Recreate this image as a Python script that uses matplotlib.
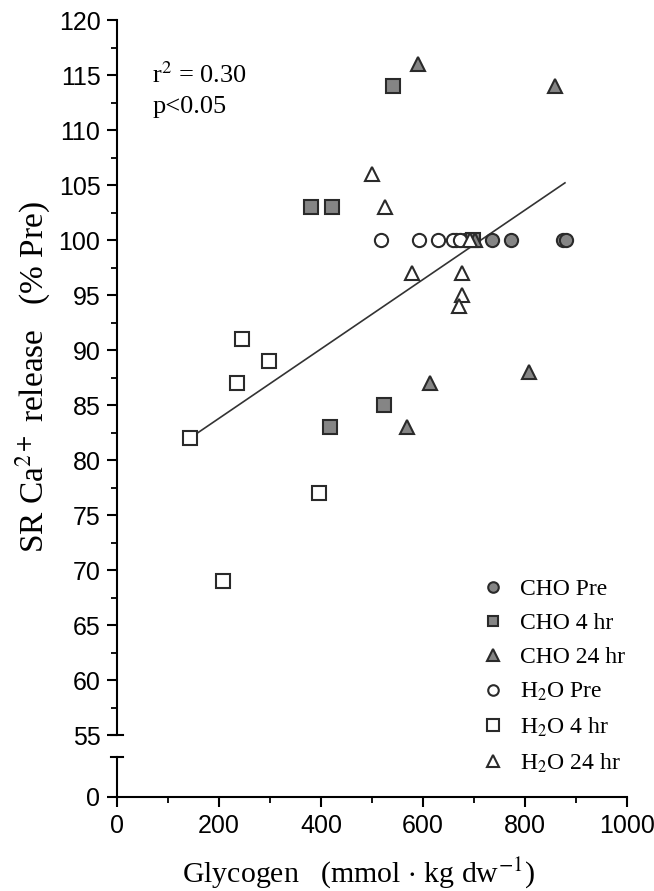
import matplotlib
matplotlib.use("Agg")
import matplotlib.pyplot as plt
from matplotlib.lines import Line2D

plt.rcParams['font.family'] = ['Liberation Serif', 'DejaVu Serif']
plt.rcParams['mathtext.fontset'] = 'stix'

# data: glycogen (x) vs SR Ca2+ release (% Pre)
cho_pre_x = [665, 682, 735, 773, 875, 880]
cho_pre_y = [100, 100, 100, 100, 100, 100]
cho_4_x = [380, 422, 541, 523, 418, 698]
cho_4_y = [103, 103, 114, 85, 83, 100]
cho_24_x = [590, 859, 614, 569, 808, 702]
cho_24_y = [116, 114, 87, 83, 88, 100]
h2o_pre_x = [518, 592, 629, 658, 672]
h2o_pre_y = [100, 100, 100, 100, 100]
h2o_4_x = [143, 208, 235, 245, 298, 396]
h2o_4_y = [82, 69, 87, 91, 89, 77]
h2o_24_x = [500, 525, 578, 676, 676, 671, 692]
h2o_24_y = [106, 103, 97, 97, 95, 94, 100]

fit_x = [143, 878]
fit_y = [82.0, 105.2]

labels = ['CHO Pre', 'CHO 4 hr', 'CHO 24 hr',
          'H$_2$O Pre', 'H$_2$O 4 hr', 'H$_2$O 24 hr']

gray = '#858585'
edge = '#2a2a2a'

fig = plt.figure(figsize=(6.54, 8.91), dpi=100)
ax = fig.add_axes([0.179, 0.175, 0.78, 0.8025])
ax2 = fig.add_axes([0.179, 0.1055, 0.78, 0.0449])

series = [
    (cho_pre_x, cho_pre_y, 'o', gray, 9.5),
    (cho_4_x, cho_4_y, 's', gray, 9.5),
    (cho_24_x, cho_24_y, '^', gray, 10),
    (h2o_pre_x, h2o_pre_y, 'o', 'white', 9.5),
    (h2o_4_x, h2o_4_y, 's', 'white', 10),
    (h2o_24_x, h2o_24_y, '^', 'white', 10),
]

ax.plot(fit_x, fit_y, color='#333333', lw=1.2, zorder=1)
handles = []
for (x, y, m, fc, ms), lab in zip(series, labels):
    ax.plot(x, y, ls='none', marker=m, ms=ms, mfc=fc, mec=edge, mew=1.5, zorder=3)
    handles.append(Line2D([], [], ls='none', marker=m, ms=ms * 0.8, mfc=fc,
                          mec=edge, mew=1.5))

ax.set_xlim(0, 1000)
ax.set_ylim(55, 120)
ax.set_yticks(range(55, 121, 5))
ax.set_yticks([57.5 + 5 * i for i in range(13)], minor=True)
ax.set_xticks([])
for s in ['top', 'right', 'bottom']:
    ax.spines[s].set_visible(False)

ax2.set_xlim(0, 1000)
ax2.set_ylim(0, 3.6)
ax2.set_yticks([0])
ax2.set_xticks(range(0, 1001, 200))
ax2.set_xticks(range(100, 1000, 200), minor=True)
for s in ['top', 'right']:
    ax2.spines[s].set_visible(False)

for a in (ax, ax2):
    a.spines['left'].set_linewidth(1.5)
    a.spines['bottom'].set_linewidth(1.5)
    a.tick_params(which='major', length=7, width=1.5, labelsize=18, pad=5)
    a.tick_params(which='minor', length=4, width=1.3)
    for t in a.get_xticklabels() + a.get_yticklabels():
        t.set_fontfamily('Liberation Sans')

# break caps
ax.plot([-0.012, 0.012], [0, 0], color='black', lw=1.5, clip_on=False,
        transform=ax.transAxes)
ax2.plot([-0.012, 0.012], [1, 1], color='black', lw=1.5, clip_on=False,
         transform=ax2.transAxes)

ax.text(0.069, 0.912, 'r$^2$ = 0.30', transform=ax.transAxes, fontsize=19,
        va='baseline')
ax.text(0.069, 0.870, 'p<0.05', transform=ax.transAxes, fontsize=19,
        va='baseline')

fig.text(0.051, 0.379, 'SR Ca$^{2+}$ release   (% Pre)', rotation=90,
         ha='center', va='bottom', fontsize=24)
fig.text(0.278, 0.0101, 'Glycogen   (mmol $\\cdot$ kg dw$^{-1}$)',
         ha='left', va='baseline', fontsize=21.5)

fig.legend(handles, labels, loc='upper left', bbox_to_anchor=(0.721, 0.361),
           frameon=False, fontsize=17, labelspacing=0.53, handletextpad=0.65,
           handlelength=1.0, borderaxespad=0)

fig.savefig('out.png', dpi=100)
